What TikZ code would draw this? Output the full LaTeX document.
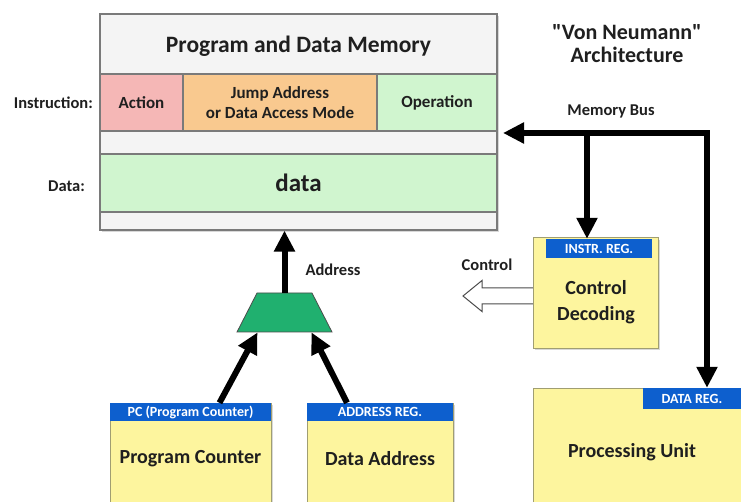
\documentclass[tikz,border=0pt]{standalone}
\usepackage{fontspec}
\setmainfont{Carlito}[Ligatures=TeXOff]
\usetikzlibrary{arrows.meta,shapes.geometric,shadows,calc}

\definecolor{memgray}{HTML}{F4F4F4}
\definecolor{actpink}{HTML}{F5B7B6}
\definecolor{jmporange}{HTML}{F9C98F}
\definecolor{opgreen}{HTML}{D0F5CF}
\definecolor{regyellow}{HTML}{FDF59E}
\definecolor{regedge}{HTML}{A09E72}
\definecolor{regblue}{HTML}{0D5FCE}
\definecolor{muxgreen}{HTML}{20B06F}
\definecolor{edgegray}{HTML}{7A7A7A}

\begin{document}
\begin{tikzpicture}[x=1pt,y=-1pt,
    every node/.style={inner sep=0pt, text=black!88},
    boxshadow/.style={drop shadow={shadow xshift=2pt, shadow yshift=-2pt, opacity=.3}},
    cell/.style={draw=edgegray, line width=1.2pt, minimum height=57pt, align=center,
      font=\fontsize{17}{20}\bfseries\selectfont},
    regbox/.style={draw=regedge, fill=regyellow, line width=1pt, boxshadow},
    regtext/.style={align=center, font=\fontsize{20}{26}\bfseries\selectfont},
    reghead/.style={fill=regblue, text=white, font=\fontsize{14}{16}\bfseries\selectfont},
    side/.style={font=\fontsize{16.5}{19}\bfseries\selectfont},
    bus/.style={line width=6pt, -{Triangle[length=21pt,width=20pt]}}]
    \clip (0,0) rectangle (741,502);
    \fill[white] (0,0) rectangle (741,502);

    % memory
    \node[draw=edgegray, fill=memgray, line width=1.2pt, minimum width=397pt, minimum height=216pt, boxshadow] (mem) at (298.5,122) {};
    \node[font=\fontsize{23.5}{28}\bfseries\selectfont] (memtitle) at (298.5,46) {Program and Data Memory};
    \node[cell, fill=actpink, minimum width=83pt] (act) at (141.5,102.5) {Action};
    \node[cell, fill=jmporange, minimum width=194pt] (jmp) at (280,102.5) {Jump Address\\or Data Access Mode};
    \node[cell, fill=opgreen, minimum width=120pt] (op) at (437,102.5) {Operation};
    \node[cell, fill=opgreen, minimum width=397pt, minimum height=58pt, font=\fontsize{25}{30}\bfseries\selectfont] (data) at (298.5,183) {data};
    \node[side, anchor=east] (instrlbl) at (93,103) {Instruction:};
    \node[side, anchor=east] (datalbl) at (85,186) {Data:};

    \node[align=center, font=\fontsize{22}{23}\bfseries\selectfont] (vn) at (627,44) {"Von Neumann"\\Architecture};
    \node[side] (buslbl) at (611,111) {Memory Bus};

    % control out, behind the decoder box
    \draw[black!70, line width=1pt, fill=white] (533,288) -- ++(-51,0) -- ++(0,-7.5) -- ++(-19,15.5)
      -- ++(19,15.5) -- ++(0,-7.5) -- ++(51,0);
    \node[side] (ctrllbl) at (487,265) {Control};

    % registers
    \node[regbox, minimum width=125pt, minimum height=110pt] (cd) at (595.5,293) {};
    \node[reghead, minimum width=106pt, minimum height=19pt] (ireg) at (599,248.5) {INSTR. REG.};
    \node[regtext] (cdtext) at (596,302) {Control\\Decoding};

    \node[regbox, minimum width=161pt, minimum height=120pt] (pc) at (190.5,463) {};
    \node[reghead, minimum width=161pt, minimum height=18pt] (pchead) at (190.5,412) {PC (Program Counter)};
    \node[regtext] (pctext) at (190.5,459) {Program Counter};

    \node[regbox, minimum width=146pt, minimum height=120pt] (da) at (380,463) {};
    \node[reghead, minimum width=146pt, minimum height=18pt] (areg) at (380,412) {ADDRESS REG.};
    \node[regtext] (datext) at (380,459) {Data Address};

    \node[regbox, minimum width=215pt, minimum height=140pt] (pu) at (640.5,458) {};
    \node[reghead, minimum width=98pt, minimum height=21pt] (dreg) at (692,398.5) {DATA REG.};
    \node[regtext] (putext) at (632,452) {Processing Unit};

    % multiplexer
    \node[trapezium, fill=muxgreen, draw=black!70, line width=.8pt, inner sep=2pt, trapezium left angle=70, trapezium right angle=70,
      trapezium stretches=true, minimum width=95pt, minimum height=39pt] (mux) at (284.5,312.5) {};
    \node[side] (addrlbl) at (333,270) {Address};

    % buses
    \coordinate (busend) at (503,133);
    \coordinate (buscorner) at (707,133);
    \coordinate (branch) at (587,133);
    \draw[bus, {Triangle[length=21pt,width=20pt]}-{Triangle[length=21pt,width=20pt]}] (busend) -- (buscorner) -- (buscorner |- dreg.north);
    \draw[bus] (branch) -- (branch |- ireg.north);
    \draw[bus] (mux.north) -- (mux.north |- mem.south);
    \draw[bus] ($(pchead.north)+(29,0)$) -- ($(mux.south)+(-27,0)$);
    \draw[bus] ($(areg.north)+(-33,0)$) -- ($(mux.south)+(27,0)$);
\end{tikzpicture}
\end{document}
